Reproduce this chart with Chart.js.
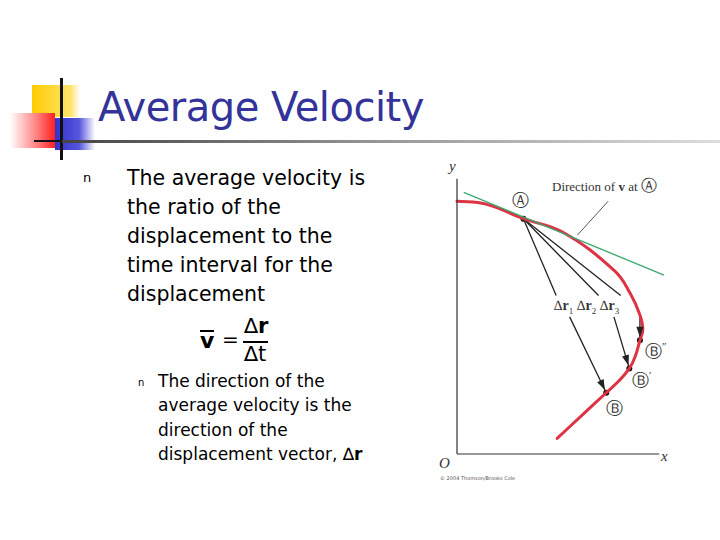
<!DOCTYPE html>
<html>
<head>
<meta charset="utf-8">
<script src="https://cdn.jsdelivr.net/npm/chart.js@4"></script>
<style>
  body { margin: 0; width: 720px; height: 540px; background: #fff; position: relative; overflow: hidden; font-family: "DejaVu Sans", Verdana, sans-serif; }
  .abs { position: absolute; }
  .title { left: 98px; top: 84px; font-size: 40px; color: #333399; letter-spacing: -0.5px; }
  .body { left: 127px; top: 164px; font-size: 20.5px; line-height: 29px; color: #000; }
  .sub { left: 158px; top: 369px; font-size: 17px; line-height: 24.3px; color: #000; }
  .serif { font-family: "Liberation Serif", "DejaVu Serif", serif; color: #333; }
  .circ { font-family: "DejaVu Sans", sans-serif; color: #333; font-size: 17px; }
</style>
</head>
<body>
<!-- decoration -->
<div class="abs" style="left:32px;top:85px;width:48px;height:32px;background:linear-gradient(90deg,#ffcc00,#ffe36a 80%,#fff);"></div>
<div class="abs" style="left:55px;top:118px;width:40px;height:32px;background:linear-gradient(90deg,#3333cc,#5555dd 60%,#fff);"></div>
<div class="abs" style="left:10px;top:113px;width:45px;height:35px;background:linear-gradient(90deg,#fff,#ff8080 60%,#ff2020);"></div>
<div class="abs" style="left:60px;top:78px;width:3px;height:82px;background:#111;"></div>
<div class="abs" style="left:34px;top:140px;width:28px;height:2px;background:#111;"></div>
<div class="abs" style="left:62px;top:140px;width:658px;height:3px;background:linear-gradient(90deg,#444,#999 50%,#ddd);"></div>

<div class="abs title">Average Velocity</div>
<div class="abs" style="left:83px;top:170px;font-size:13px;">n</div>
<div class="abs body">The average velocity is<br>the ratio of the<br>displacement to the<br>time interval for the<br>displacement</div>

<!-- formula -->
<div class="abs" style="left:200px;top:328px;font-size:22px;font-weight:bold;">v</div>
<div class="abs" style="left:200px;top:330px;width:14px;height:2px;background:#000;"></div>
<div class="abs" style="left:222px;top:327px;font-size:20px;">=</div>
<div class="abs" style="left:244px;top:314px;font-size:21px;">∆<b>r</b></div>
<div class="abs" style="left:243px;top:341px;width:25px;height:1.5px;background:#000;"></div>
<div class="abs" style="left:244px;top:342px;font-size:21px;">∆t</div>

<div class="abs" style="left:138px;top:377px;font-size:10px;">n</div>
<div class="abs sub">The direction of the<br>average velocity is the<br>direction of the<br>displacement vector, ∆<b>r</b></div>

<!-- diagram labels -->
<div class="abs serif" style="left:449px;top:158px;font-size:15px;font-style:italic;">y</div>
<div class="abs serif" style="left:661px;top:448px;font-size:15px;font-style:italic;">x</div>
<div class="abs serif" style="left:439px;top:455px;font-size:15px;font-style:italic;">O</div>
<div class="abs serif" style="left:552px;top:176px;font-size:13px;">Direction of <b>v</b> at <span class="circ" style="font-size:16px">Ⓐ</span></div>
<div class="abs circ" style="left:512px;top:189px;">Ⓐ</div>
<div class="abs circ" style="left:645px;top:340px;">Ⓑ<span class="serif" style="font-size:11px;vertical-align:top">″</span></div>
<div class="abs circ" style="left:632px;top:369px;">Ⓑ<span class="serif" style="font-size:11px;vertical-align:top">′</span></div>
<div class="abs circ" style="left:606px;top:397px;">Ⓑ</div>
<div class="abs serif" style="left:554px;top:298px;font-size:14px;">∆<b>r</b><sub style="font-size:9px">1</sub></div>
<div class="abs serif" style="left:577px;top:298px;font-size:14px;">∆<b>r</b><sub style="font-size:9px">2</sub></div>
<div class="abs serif" style="left:600px;top:298px;font-size:14px;">∆<b>r</b><sub style="font-size:9px">3</sub></div>
<div class="abs" style="left:440px;top:475px;font-size:5px;color:#555;">© 2004 Thomson/Brooks Cole</div>

<div class="abs" style="left:453px;top:168px;width:215px;height:290px;">
  <canvas id="diagram"></canvas>
</div>

<script>
// path (origin at O, one unit per pixel)
const curveX = [0, 30, 69, 110, 164, 180, 190, 193, 190, 185, 179, 168, 155, 130, 104];
const curveY = [260, 257, 242, 228, 188, 165, 143, 128, 117, 100, 88, 75, 63, 40, 16];
const tangentX = [7, 215];
const tangentY = [269, 184];
const leaderX = [125, 157];
const leaderY = [225, 260];
const axisX = [[0, 0], [0, 210]];
const axisY = [[283, 0], [0, 0]];
// displacement arrows: A -> gap, gap -> B point
const arrowStartX = [[69, 103], [69, 147], [69, 170]];
const arrowStartY = [[242, 163], [242, 163], [242, 163]];
const arrowEndX = [[117, 155], [163, 179], [190, 190]];
const arrowEndY = [[141, 63], [141, 88], [141, 117]];
const dotX = [69, 190, 179, 155];
const dotY = [242, 117, 88, 63];

const toPts = (xs, ys) => xs.map((x, i) => ({ x: x, y: ys[i] }));
const lineSet = (pts, color, width, extra) =>
  Object.assign({ data: pts, showLine: true, borderColor: color, borderWidth: width, pointRadius: 0, tension: 0 }, extra || {});

const datasets = [
  lineSet(toPts(tangentX, tangentY), '#3aa870', 1.3),
  lineSet(toPts(leaderX, leaderY), '#555', 1),
  lineSet(toPts(axisX[0], axisY[0]), '#333', 1.2),
  lineSet(toPts(axisX[1], axisY[1]), '#333', 1.2),
  lineSet(toPts(curveX, curveY), '#dd3344', 3, { tension: 0.4, borderCapStyle: 'round' }),
];
arrowStartX.forEach((xs, i) => datasets.push(lineSet(toPts(xs, arrowStartY[i]), '#222', 1.3)));
arrowEndX.forEach((xs, i) => datasets.push(lineSet(toPts(xs, arrowEndY[i]), '#222', 1.3, { arrow: true })));
datasets.push({ data: toPts(dotX, dotY), pointRadius: 3, backgroundColor: '#111', borderWidth: 0 });

// arrowheads at the end of arrow segments
const arrowHeads = {
  id: 'arrowHeads',
  afterDatasetsDraw(chart) {
    const ctx = chart.ctx;
    chart.data.datasets.forEach((ds, i) => {
      if (!ds.arrow) return;
      const pts = chart.getDatasetMeta(i).data;
      const a = pts[pts.length - 2], b = pts[pts.length - 1];
      const ang = Math.atan2(b.y - a.y, b.x - a.x);
      const tipX = b.x - 3 * Math.cos(ang), tipY = b.y - 3 * Math.sin(ang);
      ctx.save();
      ctx.fillStyle = '#222';
      ctx.beginPath();
      ctx.moveTo(tipX, tipY);
      ctx.lineTo(tipX - 11 * Math.cos(ang - 0.33), tipY - 11 * Math.sin(ang - 0.33));
      ctx.lineTo(tipX - 11 * Math.cos(ang + 0.33), tipY - 11 * Math.sin(ang + 0.33));
      ctx.closePath();
      ctx.fill();
      ctx.restore();
    });
  },
};

new Chart(document.getElementById('diagram'), {
  type: 'scatter',
  data: { datasets: datasets },
  plugins: [arrowHeads],
  options: {
    responsive: true,
    maintainAspectRatio: false,
    animation: false,
    clip: false,
    layout: { padding: 0 },
    plugins: { legend: { display: false }, tooltip: { enabled: false } },
    scales: {
      x: { type: 'linear', min: 0, max: 215, display: false },
      y: { type: 'linear', min: 0, max: 290, display: false },
    },
  },
});
</script>
</body>
</html>
